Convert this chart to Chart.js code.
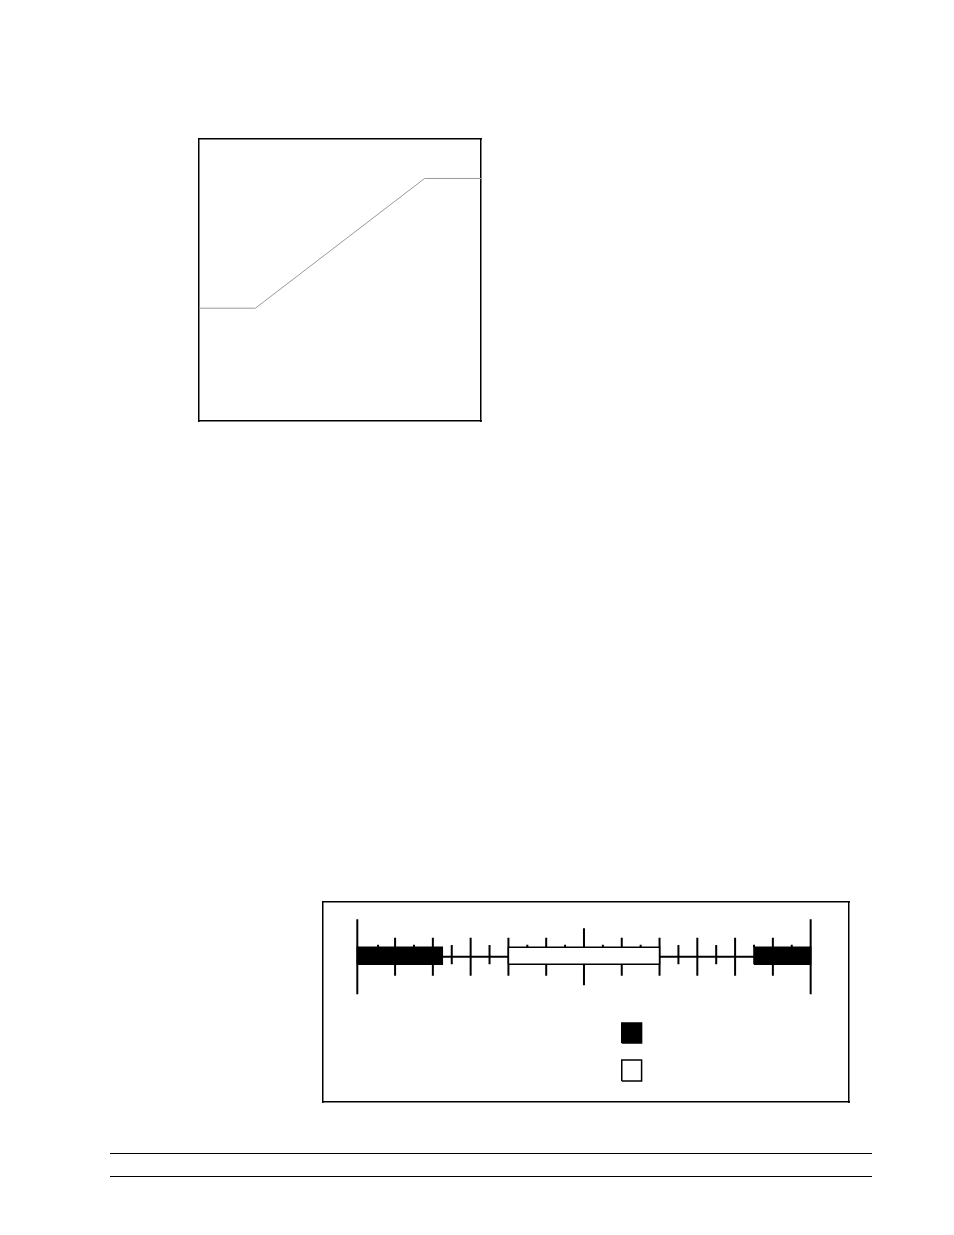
<!DOCTYPE html>
<html>
<head>
<meta charset="utf-8">
<script src="https://cdn.jsdelivr.net/npm/chart.js@4.4.1/dist/chart.umd.min.js"></script>
<style>
  html, body { margin: 0; padding: 0; background: #fff; }
  #page { position: relative; width: 954px; height: 1235px; background: #fff; overflow: hidden; }
  canvas { position: absolute; }
  #rampChart { left: 197px; top: 137px; }
  #scaleChart { left: 321px; top: 900px; }
  .rule { position: absolute; left: 110px; width: 762px; height: 0; border-top: 1.5px solid #000; }
</style>
</head>
<body>
<div id="page">
  <canvas id="rampChart" width="286" height="286"></canvas>
  <canvas id="scaleChart" width="530" height="204"></canvas>
  <div class="rule" style="top:1153px"></div>
  <div class="rule" style="top:1176px"></div>
</div>

<script>
// --- Data: top ramp curve ---
const rampX = [0, 20, 80, 100];
const rampY = [40, 40, 86, 86];

// --- Data: bottom scale figure (x in scale units, y relative to the centre line) ---
const tickPos  = [0, 1.1, 2, 3, 4, 5, 6, 7, 8, 9, 10, 11, 12, 13, 14, 15, 16, 17, 18, 19, 20, 21, 22, 23, 24];
const tickKind = ['big', 'small', 'medium', 'small', 'medium', 'short', 'medium', 'short', 'medium',
                  'small', 'medium', 'small', 'long', 'small', 'medium', 'small', 'medium',
                  'short', 'medium', 'short', 'medium', 'small', 'medium', 'small', 'big'];
const tickSpan = {
  big:    [-37.5, 37.5],
  long:   [-28.5, 28.5],
  medium: [-19, 19],
  short:  [-7.5, 11.8],
  small:  [9.5, 12.1]
};
const axisLine   = [0, 24];
const barBand    = [-7.5, 9.5];
const blackBars  = [[0, 4.5], [21, 24]];
const whiteBars  = [[8, 16]];
const keyX       = [14, 15.05];
const keyBlackY  = [-86.2, -66.2];
const keyWhiteY  = [-124.2, -103.2];

// --- helpers ---
function rect(x0, x1, y0, y1) {
    return [{x: x0, y: y0}, {x: x1, y: y0}, {x: x1, y: y1}, {x: x0, y: y1}, {x: x0, y: y0}];
}

function boxAxis(position, min, max) {
    return {
        type: 'linear', position: position, min: min, max: max,
        grid: { display: false, drawTicks: false },
        ticks: { display: false },
        border: { display: true, color: '#000', width: 1.5 }
    };
}

const baseOptions = {
    responsive: false,
    animation: false,
    events: [],
    plugins: { legend: { display: false }, tooltip: { enabled: false } },
    layout: { padding: 2 }
};

// --- Top chart ---
new Chart(document.getElementById('rampChart'), {
    type: 'scatter',
    data: {
        datasets: [{
            data: rampX.map((x, i) => ({x: x, y: rampY[i]})),
            showLine: true,
            borderColor: '#9a9a9a',
            borderWidth: 1,
            pointRadius: 0,
            fill: false
        }]
    },
    options: {
        ...baseOptions,
        scales: {
            x: boxAxis('bottom', 0, 100),
            x2: boxAxis('top', 0, 100),
            y: boxAxis('left', 0, 100),
            y2: boxAxis('right', 0, 100)
        }
    }
});

// --- Bottom scale figure ---
const tickPoints = [];
tickPos.forEach((x, i) => {
    const span = tickSpan[tickKind[i]];
    tickPoints.push({x: x, y: span[0]}, {x: x, y: span[1]}, {x: x, y: null});
});

function shapeSet(points, fillColor) {
    return {
        data: points,
        showLine: true,
        borderColor: '#000',
        borderWidth: 1.5,
        backgroundColor: fillColor,
        pointRadius: 0,
        fill: 'shape'
    };
}

const scaleDatasets = [];
// first datasets are drawn on top
blackBars.forEach(b => scaleDatasets.push(shapeSet(rect(b[0], b[1], barBand[0], barBand[1]), '#000')));
whiteBars.forEach(b => scaleDatasets.push(shapeSet(rect(b[0], b[1], barBand[0], barBand[1]), '#fff')));
scaleDatasets.push(shapeSet(rect(keyX[0], keyX[1], keyBlackY[0], keyBlackY[1]), '#000'));
scaleDatasets.push(shapeSet(rect(keyX[0], keyX[1], keyWhiteY[0], keyWhiteY[1]), '#fff'));
scaleDatasets.push({
    data: tickPoints, showLine: true, spanGaps: false,
    borderColor: '#000', borderWidth: 2, pointRadius: 0, fill: false
});
scaleDatasets.push({
    data: axisLine.map(x => ({x: x, y: 0})), showLine: true,
    borderColor: '#000', borderWidth: 2, pointRadius: 0, fill: false
});

new Chart(document.getElementById('scaleChart'), {
    type: 'scatter',
    data: { datasets: scaleDatasets },
    options: {
        ...baseOptions,
        scales: {
            x: boxAxis('bottom', -1.816, 26.03),
            x2: boxAxis('top', -1.816, 26.03),
            y: boxAxis('left', -145.2, 54.8),
            y2: boxAxis('right', -145.2, 54.8)
        }
    }
});
</script>
</body>
</html>
